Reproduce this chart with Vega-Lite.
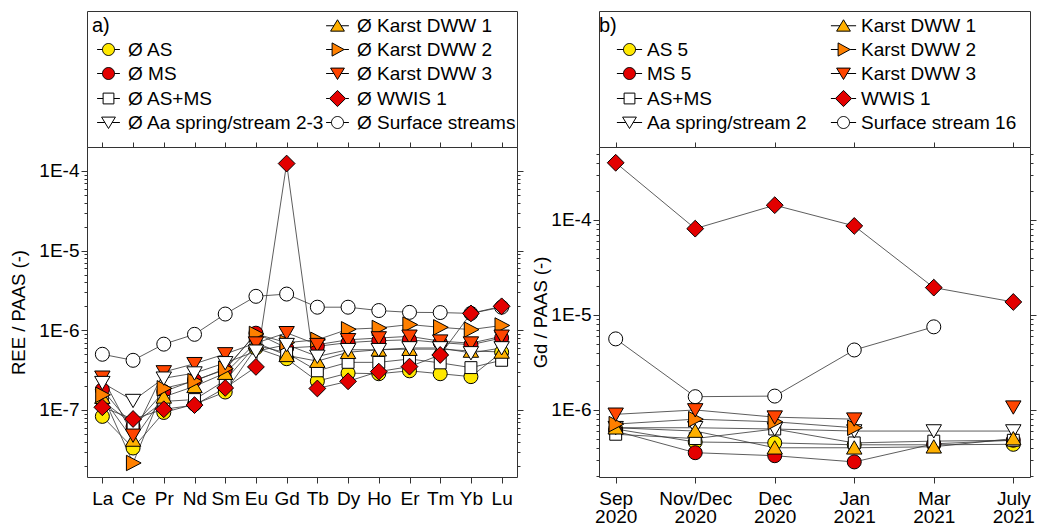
{
  "$schema": "https://vega.github.io/schema/vega-lite/v6.json",
  "padding": {"left": 9, "top": 10, "right": 1, "bottom": 0},
  "background": "white",
  "config": {
    "font": "Liberation Sans",
    "view": {"stroke": "#333333", "strokeWidth": 1},
    "axis": {"labelFont": "Liberation Sans", "labelFontSize": 19, "labelColor": "#000000", "titleFont": "Liberation Sans", "titleFontSize": 18.5, "titleFontWeight": "normal", "titleColor": "#000000", "tickColor": "#333333", "domain": false, "grid": false},
    "legend": {"labelFont": "Liberation Sans", "labelColor": "#000000", "labelLimit": 400, "symbolStrokeColor": "#000000", "symbolStrokeWidth": 1, "symbolOpacity": 1}
  },
  "datasets": {
    "a": [
      {"series": "Ø Surface streams", "el": "La", "v": 5.0e-7}, {"series": "Ø Surface streams", "el": "Ce", "v": 4.2e-7}, {"series": "Ø Surface streams", "el": "Pr", "v": 6.7e-7}, {"series": "Ø Surface streams", "el": "Nd", "v": 8.9e-7}, {"series": "Ø Surface streams", "el": "Sm", "v": 1.6e-6}, {"series": "Ø Surface streams", "el": "Eu", "v": 2.67e-6}, {"series": "Ø Surface streams", "el": "Gd", "v": 2.85e-6}, {"series": "Ø Surface streams", "el": "Tb", "v": 1.95e-6}, {"series": "Ø Surface streams", "el": "Dy", "v": 1.95e-6}, {"series": "Ø Surface streams", "el": "Ho", "v": 1.77e-6}, {"series": "Ø Surface streams", "el": "Er", "v": 1.68e-6}, {"series": "Ø Surface streams", "el": "Tm", "v": 1.67e-6}, {"series": "Ø Surface streams", "el": "Yb", "v": 1.63e-6}, {"series": "Ø Surface streams", "el": "Lu", "v": 1.95e-6},
      {"series": "Ø AS", "el": "La", "v": 8.3e-8}, {"series": "Ø AS", "el": "Ce", "v": 3.33e-8}, {"series": "Ø AS", "el": "Pr", "v": 9.3e-8}, {"series": "Ø AS", "el": "Nd", "v": 1.18e-7}, {"series": "Ø AS", "el": "Sm", "v": 1.68e-7}, {"series": "Ø AS", "el": "Eu", "v": 6.0e-7}, {"series": "Ø AS", "el": "Gd", "v": 4.4e-7}, {"series": "Ø AS", "el": "Tb", "v": 2.3e-7}, {"series": "Ø AS", "el": "Dy", "v": 2.9e-7}, {"series": "Ø AS", "el": "Ho", "v": 2.85e-7}, {"series": "Ø AS", "el": "Er", "v": 3.1e-7}, {"series": "Ø AS", "el": "Tm", "v": 2.85e-7}, {"series": "Ø AS", "el": "Yb", "v": 2.62e-7}, {"series": "Ø AS", "el": "Lu", "v": 5.3e-7},
      {"series": "Ø MS", "el": "La", "v": 1.8e-7}, {"series": "Ø MS", "el": "Ce", "v": 6.2e-8}, {"series": "Ø MS", "el": "Pr", "v": 1.7e-7}, {"series": "Ø MS", "el": "Nd", "v": 2.36e-7}, {"series": "Ø MS", "el": "Sm", "v": 3.2e-7}, {"series": "Ø MS", "el": "Eu", "v": 9.2e-7}, {"series": "Ø MS", "el": "Gd", "v": 6.0e-7}, {"series": "Ø MS", "el": "Tb", "v": 6.3e-7}, {"series": "Ø MS", "el": "Dy", "v": 7.0e-7}, {"series": "Ø MS", "el": "Ho", "v": 7.4e-7}, {"series": "Ø MS", "el": "Er", "v": 7.6e-7}, {"series": "Ø MS", "el": "Tm", "v": 7.0e-7}, {"series": "Ø MS", "el": "Yb", "v": 6.6e-7}, {"series": "Ø MS", "el": "Lu", "v": 8.0e-7},
      {"series": "Ø AS+MS", "el": "La", "v": 1.3e-7}, {"series": "Ø AS+MS", "el": "Ce", "v": 6.6e-8}, {"series": "Ø AS+MS", "el": "Pr", "v": 1.28e-7}, {"series": "Ø AS+MS", "el": "Nd", "v": 1.35e-7}, {"series": "Ø AS+MS", "el": "Sm", "v": 2.35e-7}, {"series": "Ø AS+MS", "el": "Eu", "v": 6.5e-7}, {"series": "Ø AS+MS", "el": "Gd", "v": 5.2e-7}, {"series": "Ø AS+MS", "el": "Tb", "v": 3.1e-7}, {"series": "Ø AS+MS", "el": "Dy", "v": 3.96e-7}, {"series": "Ø AS+MS", "el": "Ho", "v": 3.96e-7}, {"series": "Ø AS+MS", "el": "Er", "v": 4.36e-7}, {"series": "Ø AS+MS", "el": "Tm", "v": 3.9e-7}, {"series": "Ø AS+MS", "el": "Yb", "v": 3.4e-7}, {"series": "Ø AS+MS", "el": "Lu", "v": 4.2e-7},
      {"series": "Ø Karst DWW 1", "el": "La", "v": 1.45e-7}, {"series": "Ø Karst DWW 1", "el": "Ce", "v": 4.2e-8}, {"series": "Ø Karst DWW 1", "el": "Pr", "v": 1.46e-7}, {"series": "Ø Karst DWW 1", "el": "Nd", "v": 1.98e-7}, {"series": "Ø Karst DWW 1", "el": "Sm", "v": 2.9e-7}, {"series": "Ø Karst DWW 1", "el": "Eu", "v": 7.0e-7}, {"series": "Ø Karst DWW 1", "el": "Gd", "v": 4.85e-7}, {"series": "Ø Karst DWW 1", "el": "Tb", "v": 4.1e-7}, {"series": "Ø Karst DWW 1", "el": "Dy", "v": 5.3e-7}, {"series": "Ø Karst DWW 1", "el": "Ho", "v": 5.7e-7}, {"series": "Ø Karst DWW 1", "el": "Er", "v": 5.8e-7}, {"series": "Ø Karst DWW 1", "el": "Tm", "v": 5.8e-7}, {"series": "Ø Karst DWW 1", "el": "Yb", "v": 5.5e-7}, {"series": "Ø Karst DWW 1", "el": "Lu", "v": 5.35e-7},
      {"series": "Ø Karst DWW 2", "el": "La", "v": 1.55e-7}, {"series": "Ø Karst DWW 2", "el": "Ce", "v": 2.16e-8}, {"series": "Ø Karst DWW 2", "el": "Pr", "v": 1.87e-7}, {"series": "Ø Karst DWW 2", "el": "Nd", "v": 2.3e-7}, {"series": "Ø Karst DWW 2", "el": "Sm", "v": 3.3e-7}, {"series": "Ø Karst DWW 2", "el": "Eu", "v": 9.0e-7}, {"series": "Ø Karst DWW 2", "el": "Gd", "v": 7.0e-7}, {"series": "Ø Karst DWW 2", "el": "Tb", "v": 7.6e-7}, {"series": "Ø Karst DWW 2", "el": "Dy", "v": 1.03e-6}, {"series": "Ø Karst DWW 2", "el": "Ho", "v": 1.07e-6}, {"series": "Ø Karst DWW 2", "el": "Er", "v": 1.18e-6}, {"series": "Ø Karst DWW 2", "el": "Tm", "v": 1.09e-6}, {"series": "Ø Karst DWW 2", "el": "Yb", "v": 1.02e-6}, {"series": "Ø Karst DWW 2", "el": "Lu", "v": 1.15e-6},
      {"series": "Ø Karst DWW 3", "el": "La", "v": 2.57e-7}, {"series": "Ø Karst DWW 3", "el": "Ce", "v": 4.8e-8}, {"series": "Ø Karst DWW 3", "el": "Pr", "v": 3.0e-7}, {"series": "Ø Karst DWW 3", "el": "Nd", "v": 3.8e-7}, {"series": "Ø Karst DWW 3", "el": "Sm", "v": 5.05e-7}, {"series": "Ø Karst DWW 3", "el": "Eu", "v": 6.9e-7}, {"series": "Ø Karst DWW 3", "el": "Gd", "v": 9.3e-7}, {"series": "Ø Karst DWW 3", "el": "Tb", "v": 6.6e-7}, {"series": "Ø Karst DWW 3", "el": "Dy", "v": 7.6e-7}, {"series": "Ø Karst DWW 3", "el": "Ho", "v": 8.0e-7}, {"series": "Ø Karst DWW 3", "el": "Er", "v": 8.4e-7}, {"series": "Ø Karst DWW 3", "el": "Tm", "v": 7.3e-7}, {"series": "Ø Karst DWW 3", "el": "Yb", "v": 6.9e-7}, {"series": "Ø Karst DWW 3", "el": "Lu", "v": 8.4e-7},
      {"series": "Ø Aa spring/stream 2-3", "el": "La", "v": 2.2e-7}, {"series": "Ø Aa spring/stream 2-3", "el": "Ce", "v": 1.31e-7}, {"series": "Ø Aa spring/stream 2-3", "el": "Pr", "v": 2.5e-7}, {"series": "Ø Aa spring/stream 2-3", "el": "Nd", "v": 2.9e-7}, {"series": "Ø Aa spring/stream 2-3", "el": "Sm", "v": 3.9e-7}, {"series": "Ø Aa spring/stream 2-3", "el": "Eu", "v": 5.45e-7}, {"series": "Ø Aa spring/stream 2-3", "el": "Gd", "v": 6.6e-7}, {"series": "Ø Aa spring/stream 2-3", "el": "Tb", "v": 4.7e-7}, {"series": "Ø Aa spring/stream 2-3", "el": "Dy", "v": 5.7e-7}, {"series": "Ø Aa spring/stream 2-3", "el": "Ho", "v": 5.7e-7}, {"series": "Ø Aa spring/stream 2-3", "el": "Er", "v": 6.0e-7}, {"series": "Ø Aa spring/stream 2-3", "el": "Tm", "v": 6.0e-7}, {"series": "Ø Aa spring/stream 2-3", "el": "Yb", "v": 5.2e-7}, {"series": "Ø Aa spring/stream 2-3", "el": "Lu", "v": 6.0e-7},
      {"series": "Ø WWIS 1", "el": "La", "v": 1.08e-7}, {"series": "Ø WWIS 1", "el": "Ce", "v": 7.7e-8}, {"series": "Ø WWIS 1", "el": "Pr", "v": 1.02e-7}, {"series": "Ø WWIS 1", "el": "Nd", "v": 1.15e-7}, {"series": "Ø WWIS 1", "el": "Sm", "v": 1.89e-7}, {"series": "Ø WWIS 1", "el": "Eu", "v": 3.47e-7}, {"series": "Ø WWIS 1", "el": "Gd", "v": 1.24e-4}, {"series": "Ø WWIS 1", "el": "Tb", "v": 1.86e-7}, {"series": "Ø WWIS 1", "el": "Dy", "v": 2.29e-7}, {"series": "Ø WWIS 1", "el": "Ho", "v": 3.03e-7}, {"series": "Ø WWIS 1", "el": "Er", "v": 3.5e-7}, {"series": "Ø WWIS 1", "el": "Tm", "v": 4.9e-7}, {"series": "Ø WWIS 1", "el": "Yb", "v": 1.63e-6}, {"series": "Ø WWIS 1", "el": "Lu", "v": 2.0e-6}
    ],
    "b": [
      {"series": "Surface stream 16", "date": "Sep 2020", "v": 5.6e-6}, {"series": "Surface stream 16", "date": "Nov/Dec 2020", "v": 1.38e-6}, {"series": "Surface stream 16", "date": "Dec 2020", "v": 1.4e-6}, {"series": "Surface stream 16", "date": "Jan 2021", "v": 4.28e-6}, {"series": "Surface stream 16", "date": "Mar 2021", "v": 7.5e-6}, {"series": "Surface stream 16", "date": "July 2021", "v": null},
      {"series": "AS 5", "date": "Sep 2020", "v": 6.3e-7}, {"series": "AS 5", "date": "Nov/Dec 2020", "v": 4.6e-7}, {"series": "AS 5", "date": "Dec 2020", "v": 4.5e-7}, {"series": "AS 5", "date": "Jan 2021", "v": 4.3e-7}, {"series": "AS 5", "date": "Mar 2021", "v": 4.3e-7}, {"series": "AS 5", "date": "July 2021", "v": 4.35e-7},
      {"series": "MS 5", "date": "Sep 2020", "v": 6.0e-7}, {"series": "MS 5", "date": "Nov/Dec 2020", "v": 3.55e-7}, {"series": "MS 5", "date": "Dec 2020", "v": 3.3e-7}, {"series": "MS 5", "date": "Jan 2021", "v": 2.84e-7}, {"series": "MS 5", "date": "Mar 2021", "v": 4.4e-7}, {"series": "MS 5", "date": "July 2021", "v": 4.8e-7},
      {"series": "AS+MS", "date": "Sep 2020", "v": 5.55e-7}, {"series": "AS+MS", "date": "Nov/Dec 2020", "v": 5.0e-7}, {"series": "AS+MS", "date": "Dec 2020", "v": 6.3e-7}, {"series": "AS+MS", "date": "Jan 2021", "v": 4.5e-7}, {"series": "AS+MS", "date": "Mar 2021", "v": 4.7e-7}, {"series": "AS+MS", "date": "July 2021", "v": 4.8e-7},
      {"series": "Aa spring/stream 2", "date": "Sep 2020", "v": 6.5e-7}, {"series": "Aa spring/stream 2", "date": "Nov/Dec 2020", "v": 6.5e-7}, {"series": "Aa spring/stream 2", "date": "Dec 2020", "v": 6.3e-7}, {"series": "Aa spring/stream 2", "date": "Jan 2021", "v": 6.0e-7}, {"series": "Aa spring/stream 2", "date": "Mar 2021", "v": 6.0e-7}, {"series": "Aa spring/stream 2", "date": "July 2021", "v": 6.0e-7},
      {"series": "Karst DWW 1", "date": "Sep 2020", "v": 6.5e-7}, {"series": "Karst DWW 1", "date": "Nov/Dec 2020", "v": 6.0e-7}, {"series": "Karst DWW 1", "date": "Dec 2020", "v": 4.0e-7}, {"series": "Karst DWW 1", "date": "Jan 2021", "v": 4.0e-7}, {"series": "Karst DWW 1", "date": "Mar 2021", "v": 4.1e-7}, {"series": "Karst DWW 1", "date": "July 2021", "v": 5.0e-7},
      {"series": "Karst DWW 2", "date": "Sep 2020", "v": 7.1e-7}, {"series": "Karst DWW 2", "date": "Nov/Dec 2020", "v": 8.0e-7}, {"series": "Karst DWW 2", "date": "Dec 2020", "v": 7.5e-7}, {"series": "Karst DWW 2", "date": "Jan 2021", "v": 6.5e-7}, {"series": "Karst DWW 2", "date": "Mar 2021", "v": null}, {"series": "Karst DWW 2", "date": "July 2021", "v": null},
      {"series": "Karst DWW 3", "date": "Sep 2020", "v": 9.0e-7}, {"series": "Karst DWW 3", "date": "Nov/Dec 2020", "v": 1.0e-6}, {"series": "Karst DWW 3", "date": "Dec 2020", "v": 8.4e-7}, {"series": "Karst DWW 3", "date": "Jan 2021", "v": 8.0e-7}, {"series": "Karst DWW 3", "date": "Mar 2021", "v": null}, {"series": "Karst DWW 3", "date": "July 2021", "v": 1.07e-6},
      {"series": "WWIS 1", "date": "Sep 2020", "v": 4.0e-4}, {"series": "WWIS 1", "date": "Nov/Dec 2020", "v": 8.1e-5}, {"series": "WWIS 1", "date": "Dec 2020", "v": 1.43e-4}, {"series": "WWIS 1", "date": "Jan 2021", "v": 8.65e-5}, {"series": "WWIS 1", "date": "Mar 2021", "v": 1.94e-5}, {"series": "WWIS 1", "date": "July 2021", "v": 1.37e-5}
    ]
  },
  "hconcat": [
    {
      "vconcat": [
        {
          "width": 430, "height": 136,
          "view": {"stroke": "#333333", "strokeWidth": 1},
          "data": {"name": "a"},
          "transform": [{"filter": "false"}],
          "mark": {"type": "point", "filled": true, "opacity": 1, "stroke": "#000000", "strokeWidth": 1},
          "encoding": {
            "shape": {"field": "series", "type": "nominal",
              "scale": {"domain": ["a)", "Ø AS", "Ø MS", "Ø AS+MS", "Ø Aa spring/stream 2-3", "Ø Karst DWW 1", "Ø Karst DWW 2", "Ø Karst DWW 3", "Ø WWIS 1", "Ø Surface streams"],
                "range": ["M0,0", "M-1,0A1,1,0,1,1,1,0A1,1,0,1,1,-1,0Z M-1.9,0H-1 M1,0H1.9", "M-1,0A1,1,0,1,1,1,0A1,1,0,1,1,-1,0Z M-1.9,0H-1 M1,0H1.9", "M-0.9,-0.9H0.9V0.9H-0.9Z M-1.9,0H-0.9 M0.9,0H1.9", "M-1.15,-0.9H1.15L0,1Z M-1.9,0H-0.6 M0.6,0H1.9", "M0,-1L1.15,0.9H-1.15Z M-1.9,0H-0.6 M0.6,0H1.9", "M-0.9,-1.1L1.1,0L-0.9,1.1Z M-1.9,0H-0.9 M1.1,0H1.9", "M-1.15,-0.9H1.15L0,1Z M-1.9,0H-0.6 M0.6,0H1.9", "M0,-1.35L1.35,0L0,1.35L-1.35,0Z M-1.9,0H-1.35 M1.35,0H1.9", "M-1,0A1,1,0,1,1,1,0A1,1,0,1,1,-1,0Z M-1.9,0H-1 M1,0H1.9"]},
              "legend": {"orient": "none", "legendX": 12, "legendY": 5, "columns": 2, "columnPadding": -1, "rowPadding": 4, "title": null, "symbolSize": 144, "labelOffset": 10, "labelFontSize": 19,
                "encode": {"labels": {"update": {"dx": {"signal": "datum.label === 'a)' ? -36 : 0"}, "fontSize": {"signal": "datum.label === 'a)' ? 20 : 19"}}}}}},
            "fill": {"field": "series", "type": "nominal",
              "scale": {"domain": ["a)", "Ø AS", "Ø MS", "Ø AS+MS", "Ø Aa spring/stream 2-3", "Ø Karst DWW 1", "Ø Karst DWW 2", "Ø Karst DWW 3", "Ø WWIS 1", "Ø Surface streams"],
                "range": ["transparent", "#FFE800", "#E30000", "#FFFFFF", "#FFFFFF", "#FFB000", "#FF8000", "#FF4500", "#E30000", "#FFFFFF"]},
              "legend": {"orient": "none", "legendX": 12, "legendY": 5, "columns": 2, "columnPadding": -1, "rowPadding": 4, "title": null, "symbolSize": 144, "labelOffset": 10, "labelFontSize": 19,
                "encode": {"labels": {"update": {"dx": {"signal": "datum.label === 'a)' ? -36 : 0"}, "fontSize": {"signal": "datum.label === 'a)' ? 20 : 19"}}}}}}
          }
        },
        {
          "width": 430, "height": 330,
          "data": {"name": "a"},
          "layer": [
            {
              "mark": {"type": "line", "color": "#333333", "strokeWidth": 0.8},
              "encoding": {
                "x": {"field": "el", "type": "ordinal", "scale": {"type": "point", "padding": 0.5, "domain": ["La","Ce","Pr","Nd","Sm","Eu","Gd","Tb","Dy","Ho","Er","Tm","Yb","Lu"]},
                  "axis": {"orient": "bottom", "title": null, "tickSize": 6, "labelAngle": 0, "labelPadding": 6}},
                "y": {"field": "v", "type": "quantitative", "scale": {"type": "log", "domain": [1.44e-8, 2e-4], "nice": false},
                  "axis": {"orient": "left", "title": "REE / PAAS (-)", "titlePadding": 10, "labelPadding": 2, "labelOverlap": false,
                    "values": [2e-8,3e-8,4e-8,5e-8,6e-8,7e-8,8e-8,9e-8,1e-7,2e-7,3e-7,4e-7,5e-7,6e-7,7e-7,8e-7,9e-7,1e-6,2e-6,3e-6,4e-6,5e-6,6e-6,7e-6,8e-6,9e-6,1e-5,2e-5,3e-5,4e-5,5e-5,6e-5,7e-5,8e-5,9e-5,1e-4],
                    "labelExpr": "abs(log(datum.value)/LN10 - round(log(datum.value)/LN10)) < 0.001 ? '1E' + round(log(datum.value)/LN10) : ''",
                    "tickSize": {"condition": {"test": "abs(log(datum.value)/LN10 - round(log(datum.value)/LN10)) < 0.001", "value": 6}, "value": 3}}},
                "detail": {"field": "series"},
                "order": {"value": null}
              }
            },
            {
              "mark": {"type": "point", "filled": true, "opacity": 1, "size": 196, "stroke": "#000000", "strokeWidth": 1},
              "encoding": {
                "x": {"field": "el", "type": "ordinal", "scale": {"type": "point", "padding": 0.5, "domain": ["La","Ce","Pr","Nd","Sm","Eu","Gd","Tb","Dy","Ho","Er","Tm","Yb","Lu"]},
                  "axis": {"orient": "top", "title": null, "labels": false, "tickSize": 5}},
                "y": {"field": "v", "type": "quantitative", "scale": {"type": "log", "domain": [1.44e-8, 2e-4], "nice": false},
                  "axis": {"orient": "right", "title": null, "labels": false,
                    "values": [2e-8,3e-8,4e-8,5e-8,6e-8,7e-8,8e-8,9e-8,1e-7,2e-7,3e-7,4e-7,5e-7,6e-7,7e-7,8e-7,9e-7,1e-6,2e-6,3e-6,4e-6,5e-6,6e-6,7e-6,8e-6,9e-6,1e-5,2e-5,3e-5,4e-5,5e-5,6e-5,7e-5,8e-5,9e-5,1e-4],
                    "tickSize": {"condition": {"test": "abs(log(datum.value)/LN10 - round(log(datum.value)/LN10)) < 0.001", "value": 6}, "value": 3}}},
                "shape": {"field": "series", "type": "nominal", "legend": null,
                  "scale": {"domain": ["Ø Surface streams", "Ø AS", "Ø MS", "Ø AS+MS", "Ø Karst DWW 1", "Ø Karst DWW 2", "Ø Karst DWW 3", "Ø Aa spring/stream 2-3", "Ø WWIS 1"],
                    "range": ["circle", "circle", "circle", "M-0.85,-0.85H0.85V0.85H-0.85Z", "M0,-1L1.1,0.9H-1.1Z", "M-0.95,-1.1L1.15,0L-0.95,1.1Z", "M-1.1,-0.9H1.1L0,1Z", "M-1.1,-0.9H1.1L0,1Z", "M0,-1.2L1.2,0L0,1.2L-1.2,0Z"]}},
                "fill": {"field": "series", "type": "nominal", "legend": null,
                  "scale": {"domain": ["Ø Surface streams", "Ø AS", "Ø MS", "Ø AS+MS", "Ø Karst DWW 1", "Ø Karst DWW 2", "Ø Karst DWW 3", "Ø Aa spring/stream 2-3", "Ø WWIS 1"],
                    "range": ["#FFFFFF", "#FFE800", "#E30000", "#FFFFFF", "#FFB000", "#FF8000", "#FF4500", "#FFFFFF", "#E30000"]}}
              }
            }
          ],
          "resolve": {"axis": {"x": "independent", "y": "independent"}}
        }
      ],
      "spacing": 0,
      "bounds": "flush",
      "resolve": {"scale": {"shape": "independent", "fill": "independent"}, "legend": {"shape": "independent", "fill": "independent"}}
    },
    {
      "vconcat": [
        {
          "width": 431, "height": 136,
          "view": {"stroke": "#333333", "strokeWidth": 1},
          "data": {"name": "b"},
          "transform": [{"filter": "false"}],
          "mark": {"type": "point", "filled": true, "opacity": 1, "stroke": "#000000", "strokeWidth": 1},
          "encoding": {
            "shape": {"field": "series", "type": "nominal",
              "scale": {"domain": ["b)", "AS 5", "MS 5", "AS+MS", "Aa spring/stream 2", "Karst DWW 1", "Karst DWW 2", "Karst DWW 3", "WWIS 1", "Surface stream 16"],
                "range": ["M0,0", "M-1,0A1,1,0,1,1,1,0A1,1,0,1,1,-1,0Z M-2.1,0H-1 M1,0H2.1", "M-1,0A1,1,0,1,1,1,0A1,1,0,1,1,-1,0Z M-2.1,0H-1 M1,0H2.1", "M-0.9,-0.9H0.9V0.9H-0.9Z M-2.1,0H-0.9 M0.9,0H2.1", "M-1.15,-0.9H1.15L0,1Z M-2.1,0H-0.6 M0.6,0H2.1", "M0,-1L1.15,0.9H-1.15Z M-2.1,0H-0.6 M0.6,0H2.1", "M-0.9,-1.1L1.1,0L-0.9,1.1Z M-2.1,0H-0.9 M1.1,0H2.1", "M-1.15,-0.9H1.15L0,1Z M-2.1,0H-0.6 M0.6,0H2.1", "M0,-1.35L1.35,0L0,1.35L-1.35,0Z M-2.1,0H-1.35 M1.35,0H2.1", "M-1,0A1,1,0,1,1,1,0A1,1,0,1,1,-1,0Z M-2.1,0H-1 M1,0H2.1"]},
              "legend": {"orient": "none", "legendX": 21, "legendY": 5, "columns": 2, "columnPadding": 21, "rowPadding": 4, "title": null, "symbolSize": 144, "labelOffset": 8, "labelFontSize": 19,
                "encode": {"labels": {"update": {"dx": {"signal": "datum.label === 'b)' ? -48 : 0"}, "fontSize": {"signal": "datum.label === 'b)' ? 20 : 19"}}}}}},
            "fill": {"field": "series", "type": "nominal",
              "scale": {"domain": ["b)", "AS 5", "MS 5", "AS+MS", "Aa spring/stream 2", "Karst DWW 1", "Karst DWW 2", "Karst DWW 3", "WWIS 1", "Surface stream 16"],
                "range": ["transparent", "#FFE800", "#E30000", "#FFFFFF", "#FFFFFF", "#FFB000", "#FF8000", "#FF4500", "#E30000", "#FFFFFF"]},
              "legend": {"orient": "none", "legendX": 21, "legendY": 5, "columns": 2, "columnPadding": 21, "rowPadding": 4, "title": null, "symbolSize": 144, "labelOffset": 8, "labelFontSize": 19,
                "encode": {"labels": {"update": {"dx": {"signal": "datum.label === 'b)' ? -48 : 0"}, "fontSize": {"signal": "datum.label === 'b)' ? 20 : 19"}}}}}}
          }
        },
        {
          "width": 431, "height": 330,
          "data": {"name": "b"},
          "layer": [
            {
              "mark": {"type": "line", "color": "#333333", "strokeWidth": 0.8, "invalid": "break-paths-filter-domains"},
              "encoding": {
                "x": {"field": "date", "type": "ordinal", "scale": {"type": "point", "padding": 0.21, "domain": ["Sep 2020", "Nov/Dec 2020", "Dec 2020", "Jan 2021", "Mar 2021", "July 2021"]},
                  "axis": {"orient": "bottom", "title": null, "tickSize": 6, "labelAngle": 0, "labelPadding": 6, "labelExpr": "split(datum.value, ' ')", "labelLineHeight": 18}},
                "y": {"field": "v", "type": "quantitative", "scale": {"type": "log", "domain": [1.97e-7, 5.86e-4], "nice": false},
                  "axis": {"orient": "left", "title": "Gd / PAAS (-)", "titlePadding": 0, "labelPadding": 2, "labelOverlap": false,
                    "values": [2e-7,3e-7,4e-7,5e-7,6e-7,7e-7,8e-7,9e-7,1e-6,2e-6,3e-6,4e-6,5e-6,6e-6,7e-6,8e-6,9e-6,1e-5,2e-5,3e-5,4e-5,5e-5,6e-5,7e-5,8e-5,9e-5,1e-4,2e-4,3e-4,4e-4,5e-4],
                    "labelExpr": "abs(log(datum.value)/LN10 - round(log(datum.value)/LN10)) < 0.001 ? '1E' + round(log(datum.value)/LN10) : ''",
                    "tickSize": {"condition": {"test": "abs(log(datum.value)/LN10 - round(log(datum.value)/LN10)) < 0.001", "value": 6}, "value": 3}}},
                "detail": {"field": "series"},
                "order": {"value": null}
              }
            },
            {
              "mark": {"type": "point", "filled": true, "opacity": 1, "size": 196, "stroke": "#000000", "strokeWidth": 1},
              "encoding": {
                "x": {"field": "date", "type": "ordinal", "scale": {"type": "point", "padding": 0.21, "domain": ["Sep 2020", "Nov/Dec 2020", "Dec 2020", "Jan 2021", "Mar 2021", "July 2021"]},
                  "axis": {"orient": "top", "title": null, "labels": false, "tickSize": 5}},
                "y": {"field": "v", "type": "quantitative", "scale": {"type": "log", "domain": [1.97e-7, 5.86e-4], "nice": false},
                  "axis": {"orient": "right", "title": null, "labels": false,
                    "values": [2e-7,3e-7,4e-7,5e-7,6e-7,7e-7,8e-7,9e-7,1e-6,2e-6,3e-6,4e-6,5e-6,6e-6,7e-6,8e-6,9e-6,1e-5,2e-5,3e-5,4e-5,5e-5,6e-5,7e-5,8e-5,9e-5,1e-4,2e-4,3e-4,4e-4,5e-4],
                    "tickSize": {"condition": {"test": "abs(log(datum.value)/LN10 - round(log(datum.value)/LN10)) < 0.001", "value": 6}, "value": 3}}},
                "shape": {"field": "series", "type": "nominal", "legend": null,
                  "scale": {"domain": ["Surface stream 16", "AS 5", "MS 5", "AS+MS", "Aa spring/stream 2", "Karst DWW 1", "Karst DWW 2", "Karst DWW 3", "WWIS 1"],
                    "range": ["circle", "circle", "circle", "M-0.85,-0.85H0.85V0.85H-0.85Z", "M-1.1,-0.9H1.1L0,1Z", "M0,-1L1.1,0.9H-1.1Z", "M-0.95,-1.1L1.15,0L-0.95,1.1Z", "M-1.1,-0.9H1.1L0,1Z", "M0,-1.2L1.2,0L0,1.2L-1.2,0Z"]}},
                "fill": {"field": "series", "type": "nominal", "legend": null,
                  "scale": {"domain": ["Surface stream 16", "AS 5", "MS 5", "AS+MS", "Aa spring/stream 2", "Karst DWW 1", "Karst DWW 2", "Karst DWW 3", "WWIS 1"],
                    "range": ["#FFFFFF", "#FFE800", "#E30000", "#FFFFFF", "#FFFFFF", "#FFB000", "#FF8000", "#FF4500", "#E30000"]}}
              }
            }
          ],
          "resolve": {"axis": {"x": "independent", "y": "independent"}}
        }
      ],
      "spacing": 0,
      "bounds": "flush",
      "resolve": {"scale": {"shape": "independent", "fill": "independent"}, "legend": {"shape": "independent", "fill": "independent"}}
    }
  ],
  "spacing": 7,
  "resolve": {"scale": {"x": "independent", "y": "independent", "shape": "independent", "fill": "independent"}, "legend": {"shape": "independent", "fill": "independent"}}
}
